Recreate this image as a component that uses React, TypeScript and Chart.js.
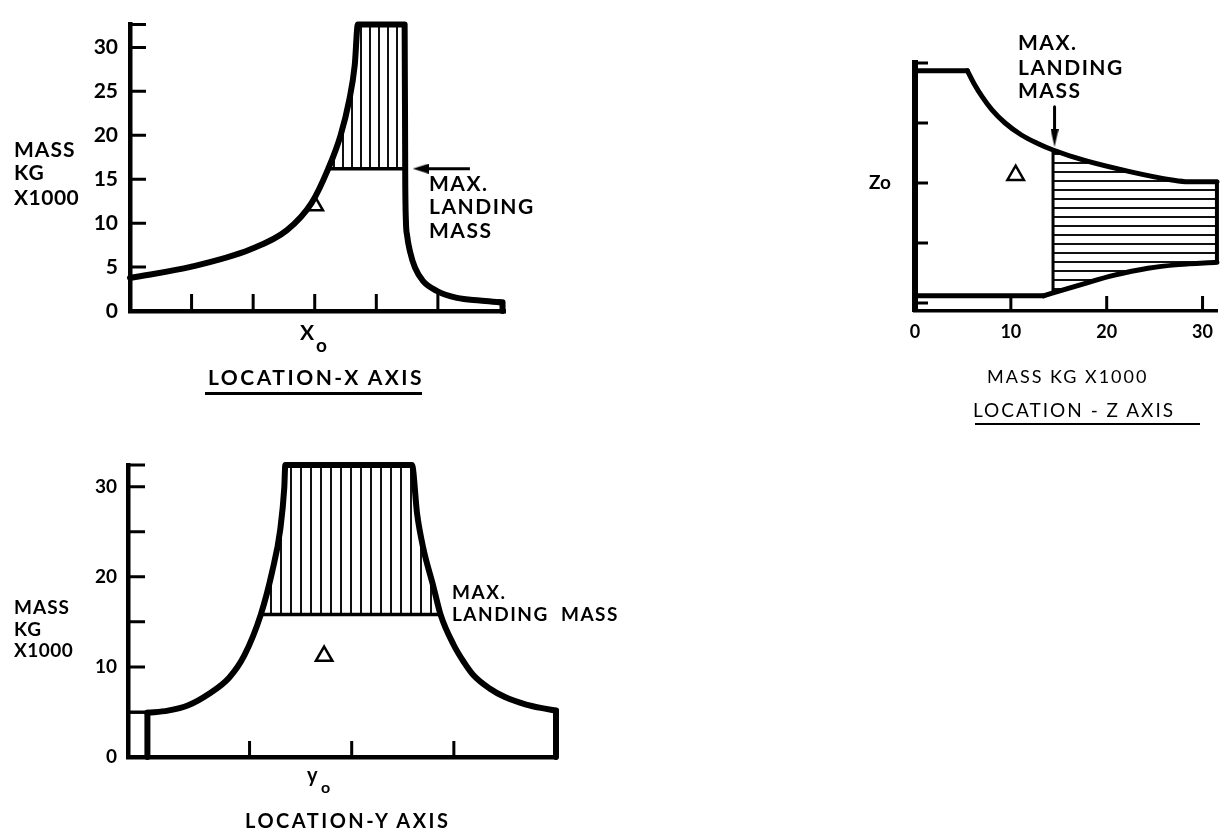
import React, { useEffect, useRef } from 'react';
import { Chart, registerables } from 'chart.js';

Chart.register(...registerables);

const FONT = 'Lato, "DejaVu Sans", sans-serif';

// ---------- Chart 1: LOCATION - X AXIS (mass vs X) ----------
const xMarks1 = [1, 2, 3, 4, 5];
const yLabels1 = [0, 5, 10, 15, 20, 25, 30];
const yMarks1 = [5, 10, 15, 20, 25, 30, 32.6];
const landing1 = 16.2;
const envX1 = [0, 1.0, 1.95, 2.55, 2.95, 3.22, 3.42, 3.56, 3.65, 3.7, 4.46, 4.47, 4.48, 4.5, 4.55, 4.63, 4.76, 4.98, 5.31, 5.68, 6.0];
const envM1 = [3.75, 5.05, 7.0, 9.2, 12.3, 16.2, 20.0, 24.0, 28.0, 32.6, 32.6, 15.0, 10.4, 8.6, 6.7, 4.9, 3.4, 2.3, 1.5, 1.2, 1.0];
const endX1 = [6.0, 6.05, 6.05];
const endM1 = [1.0, 1.0, 0];
const landX1 = [3.22, 4.47];
const markX1 = [3.0];
const markM1 = [12.0];
const arrowX1 = [5.52, 4.72];
const arrowM1 = [16.2, 16.2];

// ---------- Chart 2: LOCATION - Y AXIS (mass vs Y) ----------
const xMarks2 = [1, 2, 3];
const yLabels2 = [0, 10, 20, 30];
const yMarks2 = [5, 10, 15, 20, 25, 30, 32.4];
const landing2 = 15.8;
const envX2 = [0, 0.2, 0.4, 0.6, 0.8, 0.95, 1.11, 1.22, 1.3, 1.34, 1.35, 2.59, 2.64, 2.7, 2.8, 2.87, 3.0, 3.1, 3.19, 3.35, 3.5, 3.7, 3.85, 4.0];
const envM2 = [4.9, 5.15, 5.75, 7.0, 8.8, 11.3, 15.8, 20.5, 25.2, 29.9, 32.4, 32.4, 27.0, 23.2, 18.9, 15.8, 12.4, 10.5, 9.1, 7.6, 6.65, 5.85, 5.45, 5.15];
const startX2 = [0, 0];
const startM2 = [0, 4.9];
const boxX2 = [-0.19, 0];
const boxM2 = [4.9, 4.9];
const endX2 = [4.0, 4.0];
const endM2 = [5.15, 0];
const landX2 = [1.11, 2.87];
const markX2 = [1.73];
const markM2 = [11.2];

// ---------- Chart 3: LOCATION - Z AXIS (Z vs mass) ----------
const xLabels3 = [0, 10, 20, 30];
const xMarks3 = [10, 20, 30];
const yMarks3 = [0, 1, 2, 3, 4];
const yLabels3 = [2];
const landing3 = 14.4;
const topFlatX3 = [0, 5.47];
const topFlatZ3 = [3.87, 3.87];
const topX3 = [5.47, 6.15, 7.0, 8.03, 9.4, 11.1, 12.8, 14.4, 17.6, 22.4, 26.8, 28.5, 31.5];
const topZ3 = [3.87, 3.66, 3.44, 3.22, 3.0, 2.8, 2.66, 2.55, 2.38, 2.19, 2.05, 2.02, 2.02];
const botFlatX3 = [0, 13.4];
const botFlatZ3 = [0.12, 0.12];
const botX3 = [13.4, 14.4, 17.6, 20.7, 24.3, 27.5, 31.5];
const botZ3 = [0.12, 0.17, 0.32, 0.46, 0.58, 0.64, 0.68];
const landZ3 = [0.17, 2.55];
const edgeX3 = [31.5, 31.5];
const edgeZ3 = [0.68, 2.02];
const markX3 = [10.5];
const markZ3 = [2.13];
const arrowX3 = [14.56, 14.56];
const arrowZ3 = [3.27, 2.75];

const pts = (xs: number[], ys: number[]) => xs.map((x, i) => ({ x, y: ys[i] }));
const between = (p: { x: number }, r: number[]) => p.x >= r[0] - 1e-9 && p.x <= r[1] + 1e-9;
const CLEAR = 'rgba(0,0,0,0)';

function makePattern(ctx: CanvasRenderingContext2D, dir: 'v' | 'h', gap: number) {
  const c = document.createElement('canvas');
  c.width = gap;
  c.height = gap;
  const g = c.getContext('2d')!;
  g.fillStyle = '#111';
  if (dir === 'v') g.fillRect(0, 0, 2, gap);
  else g.fillRect(0, 0, gap, 2);
  return ctx.createPattern(c, 'repeat')!;
}

function headCanvas(dir: 'left' | 'down', len: number, half: number) {
  const c = document.createElement('canvas');
  const horiz = dir === 'left';
  c.width = horiz ? len : half * 2;
  c.height = horiz ? half * 2 : len;
  const g = c.getContext('2d')!;
  g.fillStyle = '#000';
  g.beginPath();
  if (horiz) {
    g.moveTo(0, half);
    g.lineTo(len, 0);
    g.lineTo(len, half * 2);
  } else {
    g.moveTo(half, len);
    g.lineTo(0, 0);
    g.lineTo(half * 2, 0);
  }
  g.closePath();
  g.fill();
  return c;
}

function innerTicks(cfg: { x: number[]; y: number[]; xLen: number; yLen: number; width: number }) {
  return {
    id: 'innerTicks',
    afterDatasetsDraw(chart: any) {
      const { ctx, chartArea: a, scales } = chart;
      ctx.save();
      ctx.strokeStyle = '#000';
      ctx.lineWidth = cfg.width;
      ctx.beginPath();
      cfg.x.forEach((v) => {
        const px = scales.x.getPixelForValue(v);
        ctx.moveTo(px, a.bottom);
        ctx.lineTo(px, a.bottom - cfg.xLen);
      });
      cfg.y.forEach((v) => {
        const py = scales.y.getPixelForValue(v);
        ctx.moveTo(a.left, py);
        ctx.lineTo(a.left + cfg.yLen, py);
      });
      ctx.stroke();
      ctx.restore();
    },
  };
}

const line = (data: any[], opts: any = {}) => ({
  data,
  borderColor: '#000',
  borderWidth: 6,
  pointRadius: 0,
  tension: 0,
  fill: false,
  borderCapStyle: 'round',
  borderJoinStyle: 'round',
  clip: false,
  ...opts,
});
const curve = (data: any[], opts: any = {}) => line(data, { cubicInterpolationMode: 'monotone', ...opts });
const marker = (data: any[]) => ({
  data,
  showLine: false,
  pointStyle: 'triangle',
  pointRadius: 9.5,
  pointBorderWidth: 2.5,
  pointBorderColor: '#000',
  pointBackgroundColor: CLEAR,
  order: -1,
  clip: false,
});
const hatchAbove = (data: any[], value: number, pat: CanvasPattern) =>
  curve(data, { borderWidth: 0, order: 10, fill: { target: { value }, above: pat, below: CLEAR } });

const noGrid = { drawOnChartArea: false, drawTicks: false, color: CLEAR };

function baseOptions(padding: any) {
  return {
    responsive: false,
    animation: false,
    devicePixelRatio: 1,
    layout: { autoPadding: false, padding },
    plugins: { legend: { display: false }, tooltip: { enabled: false } },
    events: [],
  };
}

const Txt = ({ x, y, size, w = 700, ls = 0, children }: any) => (
  <div
    style={{
      position: 'absolute',
      left: x,
      top: y - 0.17 * size,
      fontFamily: FONT,
      fontSize: size,
      fontWeight: w,
      lineHeight: 1,
      letterSpacing: ls,
      whiteSpace: 'pre',
      color: '#000',
    }}
  >
    {children}
  </div>
);

const Low = ({ x, xTop, size, w = 700, children }: any) => (
  <div
    style={{
      position: 'absolute',
      left: x,
      top: xTop - 0.38 * size,
      fontFamily: FONT,
      fontSize: size,
      fontWeight: w,
      lineHeight: 1,
      whiteSpace: 'pre',
      color: '#000',
    }}
  >
    {children}
  </div>
);

const Rule = ({ x, y, w, h }: any) => (
  <div style={{ position: 'absolute', left: x, top: y, width: w, height: h, background: '#000' }} />
);

export default function App() {
  const c1 = useRef<HTMLCanvasElement>(null);
  const c2 = useRef<HTMLCanvasElement>(null);
  const c3 = useRef<HTMLCanvasElement>(null);

  useEffect(() => {
    const charts: Chart[] = [];

    // ----- Chart 1 -----
    {
      const ctx = c1.current!.getContext('2d')!;
      const pat = makePattern(ctx, 'v', 9);
      const head = headCanvas('left', 16, 5);
      const env = pts(envX1, envM1);
      charts.push(
        new Chart(ctx, {
          type: 'line',
          data: {
            datasets: [
              marker(pts(markX1, markM1)),
              curve(env),
              line(pts(endX1, endM1)),
              line(pts([landX1[0], landX1[1] - 0.01], [landing1, landing1]), { borderWidth: 3.5 }),
              line(pts(arrowX1, arrowM1), { borderWidth: 3, borderCapStyle: 'butt', pointStyle: head, pointRadius: [0, 5] }),
              hatchAbove(env.filter((p) => between(p, landX1)), landing1, pat),
            ] as any,
          },
          options: {
            ...baseOptions({ left: 0, top: 15, right: 55, bottom: 0 }),
            scales: {
              x: {
                type: 'linear',
                min: 0,
                max: 6.09,
                afterFit: (s: any) => { s.height = 49; },
                ticks: { display: false },
                grid: noGrid,
                border: { color: '#000', width: 4.5 },
              },
              y: {
                type: 'linear',
                min: 0,
                max: 32.6,
                afterFit: (s: any) => { s.width = 130; },
                afterBuildTicks: (s: any) => { s.ticks = yLabels1.map((v) => ({ value: v })); },
                ticks: { color: '#000', padding: 12, autoSkip: false, font: { family: FONT, size: 21, weight: 'bold' } },
                grid: noGrid,
                border: { color: '#000', width: 4.5 },
              },
            },
          } as any,
          plugins: [innerTicks({ x: xMarks1, y: yMarks1, xLen: 17, yLen: 16, width: 3 })],
        })
      );
    }

    // ----- Chart 2 -----
    {
      const ctx = c2.current!.getContext('2d')!;
      const pat = makePattern(ctx, 'v', 10);
      const env = pts(envX2, envM2);
      charts.push(
        new Chart(ctx, {
          type: 'line',
          data: {
            datasets: [
              marker(pts(markX2, markM2)),
              curve(env),
              line(pts(startX2, startM2)),
              line(pts(endX2, endM2)),
              line(pts(boxX2, boxM2), { borderWidth: 2, borderCapStyle: 'butt' }),
              line(pts(landX2, [landing2, landing2]), { borderWidth: 3.5 }),
              hatchAbove(env.filter((p) => between(p, landX2)), landing2, pat),
            ] as any,
          },
          options: {
            ...baseOptions({ left: 0, top: 35, right: 104, bottom: 0 }),
            scales: {
              x: {
                type: 'linear',
                min: -0.19,
                max: 4.0,
                afterFit: (s: any) => { s.height = 78; },
                ticks: { display: false },
                grid: noGrid,
                border: { color: '#000', width: 4.5 },
              },
              y: {
                type: 'linear',
                min: 0,
                max: 32.4,
                afterFit: (s: any) => { s.width = 128; },
                afterBuildTicks: (s: any) => { s.ticks = yLabels2.map((v) => ({ value: v })); },
                ticks: { color: '#000', padding: 11, autoSkip: false, font: { family: FONT, size: 19, weight: 'bold' } },
                grid: noGrid,
                border: { color: '#000', width: 4.5 },
              },
            },
          } as any,
          plugins: [innerTicks({ x: xMarks2, y: yMarks2, xLen: 16, yLen: 17, width: 3 })],
        })
      );
    }

    // ----- Chart 3 -----
    {
      const ctx = c3.current!.getContext('2d')!;
      const pat = makePattern(ctx, 'h', 9);
      const top = pts(topX3, topZ3);
      const bot = pts(botX3, botZ3);
      const head = headCanvas('down', 18, 4);
      charts.push(
        new Chart(ctx, {
          type: 'line',
          data: {
            datasets: [
              marker(pts(markX3, markZ3)),
              line(pts(topFlatX3, topFlatZ3), { borderWidth: 5 }),
              curve(top, { borderWidth: 5 }),
              line(pts(botFlatX3, botFlatZ3), { borderWidth: 5 }),
              curve(bot, { borderWidth: 5 }),
              line(pts([landing3, landing3], landZ3), { borderWidth: 3 }),
              line(pts(edgeX3, edgeZ3), { borderWidth: 4 }),
              line(pts(arrowX3, arrowZ3), { borderWidth: 3, borderCapStyle: 'butt', pointStyle: head, pointRadius: [0, 5] }),
              curve(top.filter((p) => p.x >= landing3), { borderWidth: 0, fill: '+1', backgroundColor: pat, order: 10 }),
              curve(bot.filter((p) => p.x >= landing3), { borderWidth: 0, order: 10 }),
            ] as any,
          },
          options: {
            ...baseOptions({ left: 0, top: 63, right: 0, bottom: 0 }),
            scales: {
              x: {
                type: 'linear',
                min: 0,
                max: 31.6,
                afterFit: (s: any) => { s.height = 124; },
                afterBuildTicks: (s: any) => { s.ticks = xLabels3.map((v) => ({ value: v })); },
                ticks: { color: '#000', padding: 10, autoSkip: false, maxRotation: 0, font: { family: FONT, size: 18, weight: 'bold' } },
                grid: noGrid,
                border: { color: '#000', width: 3.5 },
              },
              y: {
                type: 'linear',
                min: -0.133,
                max: 4.0,
                afterFit: (s: any) => { s.width = 85; },
                afterBuildTicks: (s: any) => { s.ticks = yLabels3.map((v) => ({ value: v })); },
                ticks: {
                  color: '#000',
                  padding: 24,
                  autoSkip: false,
                  font: { family: FONT, size: 19, weight: 'bold' },
                  callback: () => 'Zo',
                },
                grid: noGrid,
                border: { color: '#000', width: 6 },
              },
            },
          } as any,
          plugins: [innerTicks({ x: xMarks3, y: yMarks3, xLen: 15, yLen: 13, width: 3 })],
        })
      );
    }

    return () => charts.forEach((c) => c.destroy());
  }, []);

  return (
    <div style={{ position: 'absolute', left: 0, top: 0, width: 1223, height: 835, background: '#fff', overflow: 'hidden' }}>
      <canvas ref={c1} width={560} height={360} style={{ position: 'absolute', left: 0, top: 0 }} />
      <canvas ref={c2} width={660} height={405} style={{ position: 'absolute', left: 0, top: 430 }} />
      <canvas ref={c3} width={393} height={435} style={{ position: 'absolute', left: 830, top: 0 }} />

      {/* Chart 1 text */}
      <Txt x={14} y={142} size={21} ls={1}>MASS</Txt>
      <Txt x={14} y={165} size={21} ls={1}>KG</Txt>
      <Txt x={14} y={190} size={21} ls={0.5}>X1000</Txt>
      <Txt x={429} y={176} size={21} ls={1.5}>MAX.</Txt>
      <Txt x={429} y={199} size={21} ls={1.5}>LANDING</Txt>
      <Txt x={429} y={223} size={21} ls={1.5}>MASS</Txt>
      <Txt x={300} y={325} size={21}>X</Txt>
      <Low x={316} xTop={342} size={19}>o</Low>
      <Txt x={208} y={370} size={21} ls={2.5}>LOCATION-X AXIS</Txt>
      <Rule x={205} y={392} w={217} h={3} />

      {/* Chart 2 text */}
      <Txt x={14} y={600} size={19} ls={1}>MASS</Txt>
      <Txt x={14} y={622} size={19} ls={1}>KG</Txt>
      <Txt x={14} y={643} size={19} ls={0.5}>X1000</Txt>
      <Txt x={452} y={585} size={19} ls={1.5}>MAX.</Txt>
      <Txt x={452} y={607} size={19} ls={1.5}>LANDING  MASS</Txt>
      <Low x={307} xTop={772} size={20}>y</Low>
      <Low x={321} xTop={785} size={16}>o</Low>
      <Txt x={245} y={813} size={20} ls={2.5}>LOCATION-Y AXIS</Txt>

      {/* Chart 3 text */}
      <Txt x={1018} y={35} size={21} ls={1.5}>MAX.</Txt>
      <Txt x={1018} y={60} size={21} ls={1.5}>LANDING</Txt>
      <Txt x={1018} y={83} size={21} ls={1.5}>MASS</Txt>
      <Txt x={987} y={370} size={18} w={400} ls={2}>MASS KG X1000</Txt>
      <Txt x={973} y={403} size={19} w={400} ls={2}>LOCATION - Z AXIS</Txt>
      <Rule x={975} y={423} w={225} h={2} />
    </div>
  );
}
